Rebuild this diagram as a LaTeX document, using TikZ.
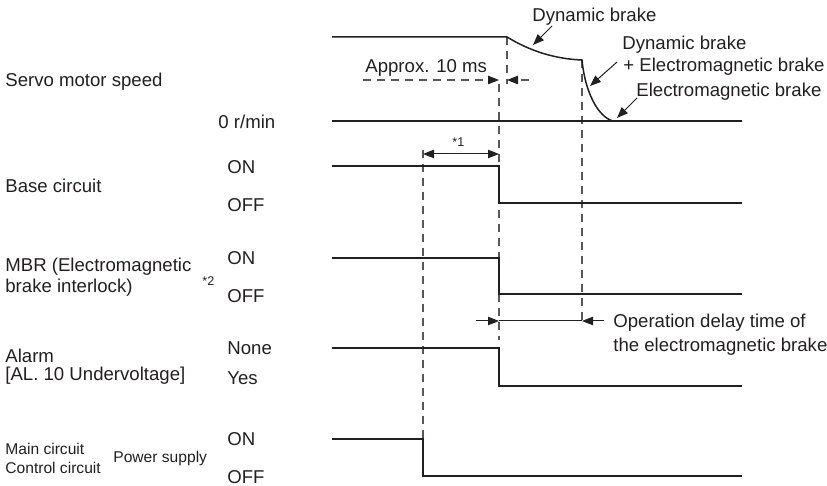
\documentclass[tikz,border=0pt]{standalone}
\usepackage{fontspec}
\setmainfont{Liberation Sans}
\usetikzlibrary{arrows.meta}
\definecolor{ink}{HTML}{231F20}
\tikzset{
  sig/.style={line width=0.75pt, ink},
  dsh/.style={line width=0.55pt, ink!75, dash pattern=on 4pt off 3pt},
  tipa/.style={-{Triangle[length=5.5pt,width=4.2pt]}, line width=0.5pt, ink},
  txt/.style={inner sep=0pt, anchor=base west, text=ink, font=\fontsize{9.3}{11}\selectfont},
  stxt/.style={inner sep=0pt, anchor=base west, text=ink, font=\fontsize{7.8}{9}\selectfont},
  ttxt/.style={inner sep=0pt, anchor=base west, text=ink, font=\fontsize{6.3}{7}\selectfont},
}
\begin{document}
\begin{tikzpicture}[x=0.5pt,y=-0.5pt]
\useasboundingbox (0,0) rectangle (827,486);

% ---- left labels ----
\node[txt] (speed) at (5,87) {Servo motor speed};
\node[txt] (zero) at (218,129) {0 r/min};
\node[txt] (base) at (5,193) {Base circuit};
\node[txt] (bon) at (227,174) {ON};
\node[txt] (boff) at (227,212) {OFF};
\node[txt] (mbr1) at (5,272) {MBR (Electromagnetic};
\node[txt] (mbr2) at (5,293) {brake interlock)};
\node[ttxt] (n2) at (202,286) {*2};
\node[txt] (mon) at (227,265) {ON};
\node[txt] (moff) at (227,303) {OFF};
\node[txt] (al1) at (5,363) {Alarm};
\node[txt] (al2) at (5,381) {[AL. 10 Undervoltage]};
\node[txt] (anone) at (227,355) {None};
\node[txt] (ayes) at (227,385) {Yes};
\node[stxt] (mc) at (5,455) {Main circuit};
\node[stxt] (cc) at (5,474) {Control circuit};
\node[stxt] (ps) at (113,463) {Power supply};
\node[txt] (pon) at (227,446) {ON};
\node[txt] (poff) at (227,484) {OFF};

% ---- dashed guides ----
\draw[dsh] (507,37) -- (507,84);
\draw[dsh] (499,84) -- (499,340);
\draw[dsh] (582,60) -- (582,323);
\draw[dsh] (423,150) -- (423,439);

% ---- servo motor speed ----
\draw[sig] (332,37) -- (507,37)
  .. controls (530,51) and (555,59) .. (582,60)
  .. controls (585,92) and (598,117) .. (613,121);
\draw[sig] (332,121) -- (742,121);

% ---- signals ----
\draw[sig] (332,166) -- (499,166) -- (499,203) -- (742,203);
\draw[sig] (332,258) -- (499,258) -- (499,294) -- (742,294);
\draw[sig] (332,348) -- (499,348) -- (499,386) -- (742,386);
\draw[sig] (332,439) -- (423,439) -- (423,476) -- (742,476);

% ---- approx 10 ms ----
\node[txt] (approx) at (365,73) {Approx. 10 ms};
\coordinate (a1) at (499,80);
\coordinate (a2) at (507,80);
\draw[dsh,-{Triangle[length=5.5pt,width=4.2pt,color=ink]}] (363,80) -- (a1);
\draw[dsh,-{Triangle[length=5.5pt,width=4.2pt,color=ink]}] (529,80) -- (a2);

% ---- *1 ----
\coordinate (s1) at (423,154);
\coordinate (s2) at (499,154);
\draw[line width=0.5pt, ink, {Triangle[length=5.5pt,width=4.2pt]}-{Triangle[length=5.5pt,width=4.2pt]}] (s1) -- (s2);
\node[ttxt] (n1) at (452,147) {*1};

% ---- operation delay ----
\coordinate (d1) at (499,321);
\coordinate (d2) at (582,321);
\draw[tipa] (476,321) -- (d1);
\draw[line width=0.5pt, ink] (d1) -- (d2);
\draw[tipa] (604,321) -- (d2);
\node[txt] (od1) at (613,328) {Operation delay time of};
\node[txt] (od2) at (613,352) {the electromagnetic brake};

% ---- brake labels ----
\node[txt] (db) at (532,22) {Dynamic brake};
\node[txt] (dbem1) at (622,50) {Dynamic brake};
\node[txt] (dbem2) at (623,72) {+ Electromagnetic brake};
\node[txt] (em) at (636,97) {Electromagnetic brake};
\draw[tipa] (552,26) -- (533,45);
\draw[tipa] (617,62) -- (590,86);
\draw[tipa] (637,98) -- (617,118);
\end{tikzpicture}
\end{document}
